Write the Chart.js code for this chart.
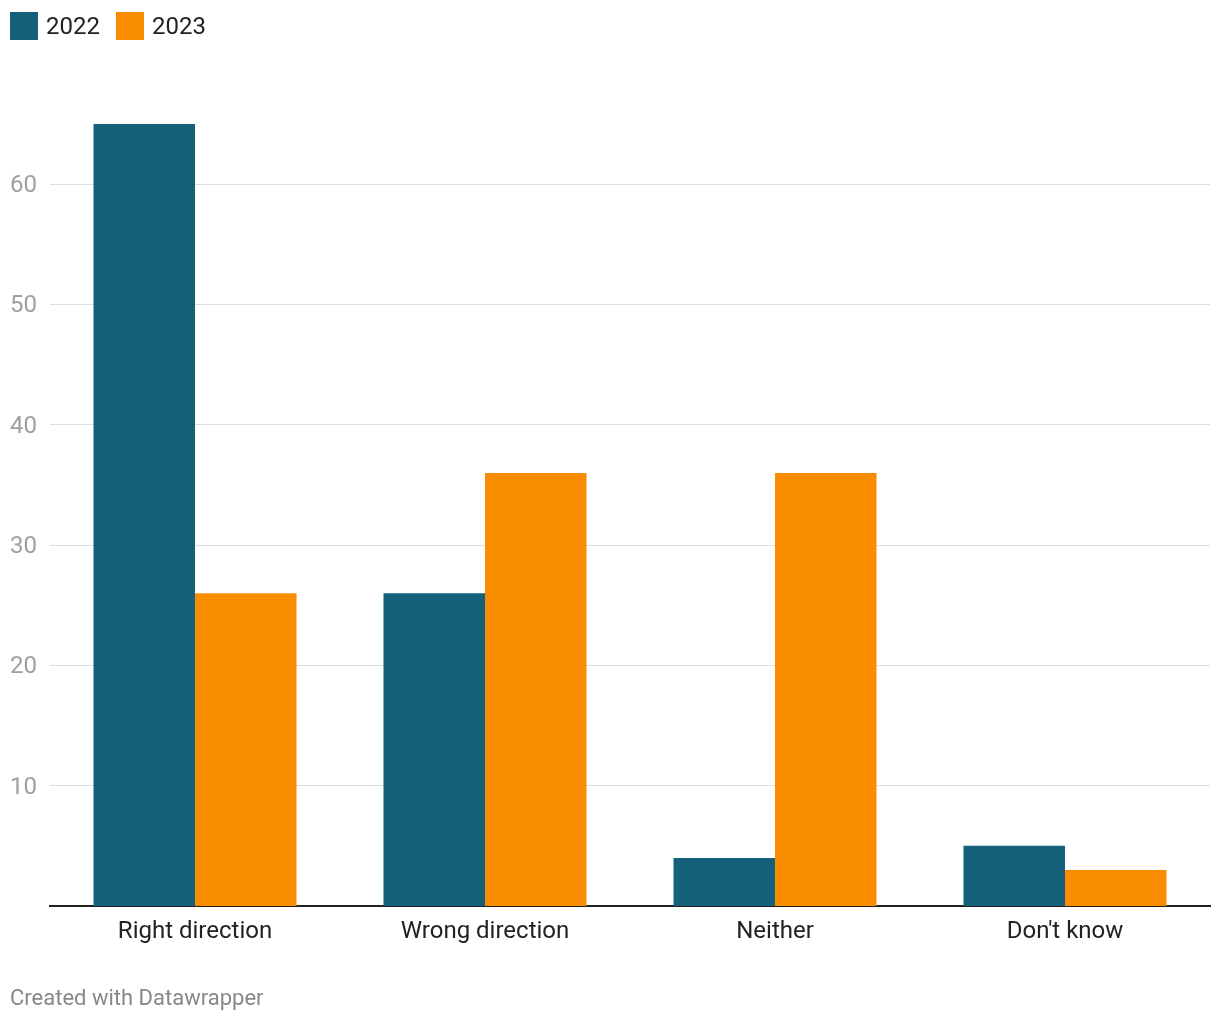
<!DOCTYPE html>
<html>
<head>
<meta charset="utf-8">
<script src="https://cdn.jsdelivr.net/npm/chart.js@4"></script>
<style>
  html, body { margin: 0; padding: 0; background: #fff; }
  body { width: 1220px; height: 1020px; position: relative; overflow: hidden; font-family: Roboto, "Noto Sans", sans-serif; }
  #wrap { position: absolute; left: 0; top: 0; width: 1220px; height: 1020px; }
  .legend { position: absolute; top: 12px; left: 10px; height: 28px; display: flex; align-items: center; font-size: 24px; color: #222; }
  .legend .item { display: flex; align-items: center; margin-right: 16px; }
  .legend .sw { width: 28px; height: 28px; margin-right: 8px; display: inline-block; }
  .footer { position: absolute; left: 10px; top: 985px; font-size: 22px; color: #888; }
</style>
</head>
<body>
<div id="wrap"><canvas id="c" width="1220" height="1020"></canvas></div>
<div class="legend" id="legend"></div>
<div class="footer">Created with Datawrapper</div>
<script>
const categories = ["Right direction", "Wrong direction", "Neither", "Don't know"];
const seriesNames = ["2022", "2023"];
const values2022 = [65, 26, 4, 5];
const values2023 = [26, 36, 36, 3];
const yTicks = [10, 20, 30, 40, 50, 60];
const colors = ["#15607a", "#fa8c00"];

const legend = document.getElementById('legend');
seriesNames.forEach((n, i) => {
  const it = document.createElement('div');
  it.className = 'item';
  it.innerHTML = '<span class="sw" style="background:' + colors[i] + '"></span><span>' + n + '</span>';
  legend.appendChild(it);
});

new Chart(document.getElementById('c'), {
  type: 'bar',
  data: {
    labels: categories,
    datasets: [
      { label: seriesNames[0], data: values2022, backgroundColor: colors[0], borderWidth: 0 },
      { label: seriesNames[1], data: values2023, backgroundColor: colors[1], borderWidth: 0 }
    ]
  },
  options: {
    responsive: false,
    animation: false,
    devicePixelRatio: 1,
    layout: { padding: { top: 124, right: 10, bottom: 70, left: 0 } },
    plugins: { legend: { display: false }, tooltip: { enabled: false } },
    datasets: { bar: { categoryPercentage: 0.7, barPercentage: 1.0 } },
    scales: {
      x: {
        grid: { display: false, drawTicks: false },
        border: { display: true, color: '#222', width: 2 },
        ticks: { color: '#222', font: { family: 'Roboto', size: 24 }, padding: 12 },
        afterFit: s => { s.height = 44; }
      },
      y: {
        min: 0, max: 65,
        afterBuildTicks: a => { a.ticks = yTicks.map(v => ({ value: v })); },
        grid: { color: '#dedede', lineWidth: 1, drawTicks: false },
        border: { display: false },
        ticks: { color: '#a0a0a0', font: { family: 'Roboto', size: 24 }, padding: 13, labelOffset: 2 },
        afterFit: s => { s.width = 50; }
      }
    }
  }
});
</script>
</body>
</html>
